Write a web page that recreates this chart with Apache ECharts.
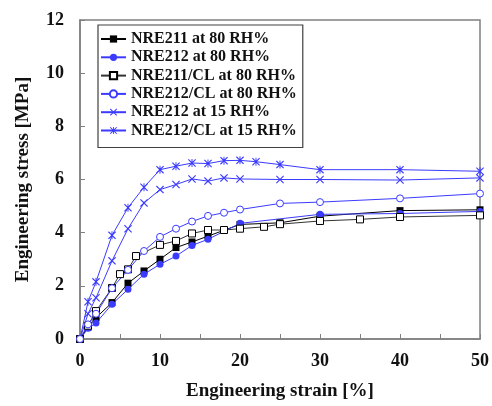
<!DOCTYPE html>
<html>
<head>
<meta charset="utf-8">
<script src="https://cdn.jsdelivr.net/npm/echarts@6/dist/echarts.min.js"></script>
<style>
  html, body { margin: 0; padding: 0; background: #fff; }
  #chart { width: 492px; height: 406px; }
</style>
</head>
<body>
<div id="chart"></div>
<script>
// Stress-strain curves, values
const seriesNames = [
    'NRE211 at 80 RH%',
    'NRE212 at 80 RH%',
    'NRE211/CL at 80 RH%',
    'NRE212/CL at 80 RH%',
    'NRE212 at 15 RH%',
    'NRE212/CL at 15 RH%'
];

const strainA = [0, 1, 2, 4, 6, 8, 10, 12, 14, 16, 20, 25, 30, 40, 50];
const stressA = [0, 0.44, 0.8, 1.37, 2.1, 2.56, 3.0, 3.44, 3.65, 3.87, 4.31, 4.37, 4.62, 4.83, 4.86];

const strainB = [0, 1, 2, 4, 6, 8, 10, 12, 14, 16, 20, 30, 40, 50];
const stressB = [0, 0.4, 0.6, 1.31, 1.87, 2.44, 2.81, 3.12, 3.52, 3.75, 4.35, 4.69, 4.72, 4.8];

const strainC = [0, 1, 2, 4, 5, 6, 7, 10, 12, 14, 16, 18, 20, 23, 25, 30, 35, 40, 50];
const stressC = [0, 0.5, 1.05, 1.92, 2.44, 2.62, 3.12, 3.54, 3.69, 3.97, 4.1, 4.1, 4.15, 4.22, 4.32, 4.44, 4.5, 4.59, 4.65];

const strainD = [0, 1, 2, 4, 6, 8, 10, 12, 14, 16, 18, 20, 25, 30, 40, 50];
const stressD = [0, 0.55, 0.95, 1.91, 2.6, 3.31, 3.84, 4.15, 4.42, 4.63, 4.75, 4.87, 5.1, 5.15, 5.29, 5.47];

const strainE = [0, 1, 2, 4, 6, 8, 10, 12, 14, 16, 18, 20, 25, 30, 40, 50];
const stressE = [0, 0.95, 1.55, 2.94, 4.15, 5.12, 5.62, 5.81, 6.02, 5.94, 6.06, 6.02, 6.0, 6.0, 5.98, 6.06];

const strainF = [0, 1, 2, 4, 6, 8, 10, 12, 14, 16, 18, 20, 22, 25, 30, 40, 50];
const stressF = [0, 1.4, 2.15, 3.9, 4.94, 5.71, 6.37, 6.5, 6.62, 6.6, 6.71, 6.72, 6.67, 6.56, 6.37, 6.37, 6.31];

const xTicks = [0, 10, 20, 30, 40, 50];

const BLUE = '#3b3bff';
const FONT = 'Liberation Serif';

// marker shapes for the 15 RH% curves
const crossPath = 'path://M0,1L1,0L5,4L9,0L10,1L6,5L10,9L9,10L5,6L1,10L0,9L4,5Z';
const starPath = crossPath + 'M4.4,0L5.6,0L5.6,10L4.4,10Z';

function pairs(xs, ys) {
    return xs.map((x, i) => [x, ys[i]]);
}

function makeSeries(name, xs, ys, opts) {
    return {
        name: name,
        type: 'line',
        data: pairs(xs, ys),
        symbol: opts.symbol,
        symbolSize: opts.size || 7,
        showSymbol: true,
        lineStyle: { color: opts.line, width: 1 },
        itemStyle: {
            color: opts.fill,
            borderColor: opts.border || opts.fill,
            borderWidth: opts.borderWidth || 0
        },
        z: opts.z || 2
    };
}

const chart = echarts.init(document.getElementById('chart'));

chart.setOption({
    animation: false,
    backgroundColor: '#fff',
    grid: {
        left: 80, right: 10, top: 20, bottom: 66,
        show: true, borderColor: '#808080', borderWidth: 1.5
    },
    legend: {
        orient: 'vertical',
        left: 98,
        top: 25,
        padding: [6, 6, 9, 2],
        itemGap: 2.3,
        itemWidth: 25,
        itemHeight: 9,
        borderColor: '#404040',
        borderWidth: 1.2,
        backgroundColor: '#fff',
        data: seriesNames,
        textStyle: { fontFamily: FONT, fontWeight: 'bold', fontSize: 16, color: '#111' }
    },
    xAxis: {
        type: 'value',
        min: 0, max: 50, interval: 5,
        name: 'Engineering strain [%]',
        nameLocation: 'middle',
        nameGap: 43,
        nameTextStyle: { fontFamily: FONT, fontWeight: 'bold', fontSize: 19, color: '#111' },
        axisLine: { lineStyle: { color: '#808080', width: 1.5 } },
        axisTick: { inside: true, length: 5, lineStyle: { color: '#808080' } },
        axisLabel: {
            margin: 13,
            fontFamily: FONT, fontWeight: 'bold', fontSize: 18, color: '#111',
            formatter: v => (xTicks.indexOf(v) >= 0 ? String(v) : '')
        },
        splitLine: { show: false }
    },
    yAxis: {
        type: 'value',
        min: 0, max: 12, interval: 2,
        name: 'Engineering stress [MPa]',
        nameLocation: 'middle',
        nameGap: 47,
        nameTextStyle: { fontFamily: FONT, fontWeight: 'bold', fontSize: 19, color: '#111' },
        axisLine: { show: true, lineStyle: { color: '#808080', width: 1.5 } },
        axisTick: { show: true, inside: true, length: 5, lineStyle: { color: '#808080' } },
        axisLabel: { margin: 16, fontFamily: FONT, fontWeight: 'bold', fontSize: 18, color: '#111' },
        splitLine: { show: false }
    },
    series: [
        makeSeries(seriesNames[0], strainA, stressA, { symbol: 'rect', fill: '#000', line: '#000', z: 3 }),
        makeSeries(seriesNames[1], strainB, stressB, { symbol: 'circle', fill: BLUE, line: BLUE, z: 3 }),
        makeSeries(seriesNames[2], strainC, stressC, { symbol: 'rect', fill: '#fff', border: '#000', borderWidth: 1, line: '#333', z: 4 }),
        makeSeries(seriesNames[3], strainD, stressD, { symbol: 'circle', fill: '#fff', border: BLUE, borderWidth: 1, line: BLUE, z: 4 }),
        makeSeries(seriesNames[4], strainE, stressE, { symbol: crossPath, size: 8, fill: BLUE, line: BLUE }),
        makeSeries(seriesNames[5], strainF, stressF, { symbol: starPath, size: 8, fill: BLUE, line: BLUE })
    ]
});
</script>
</body>
</html>
